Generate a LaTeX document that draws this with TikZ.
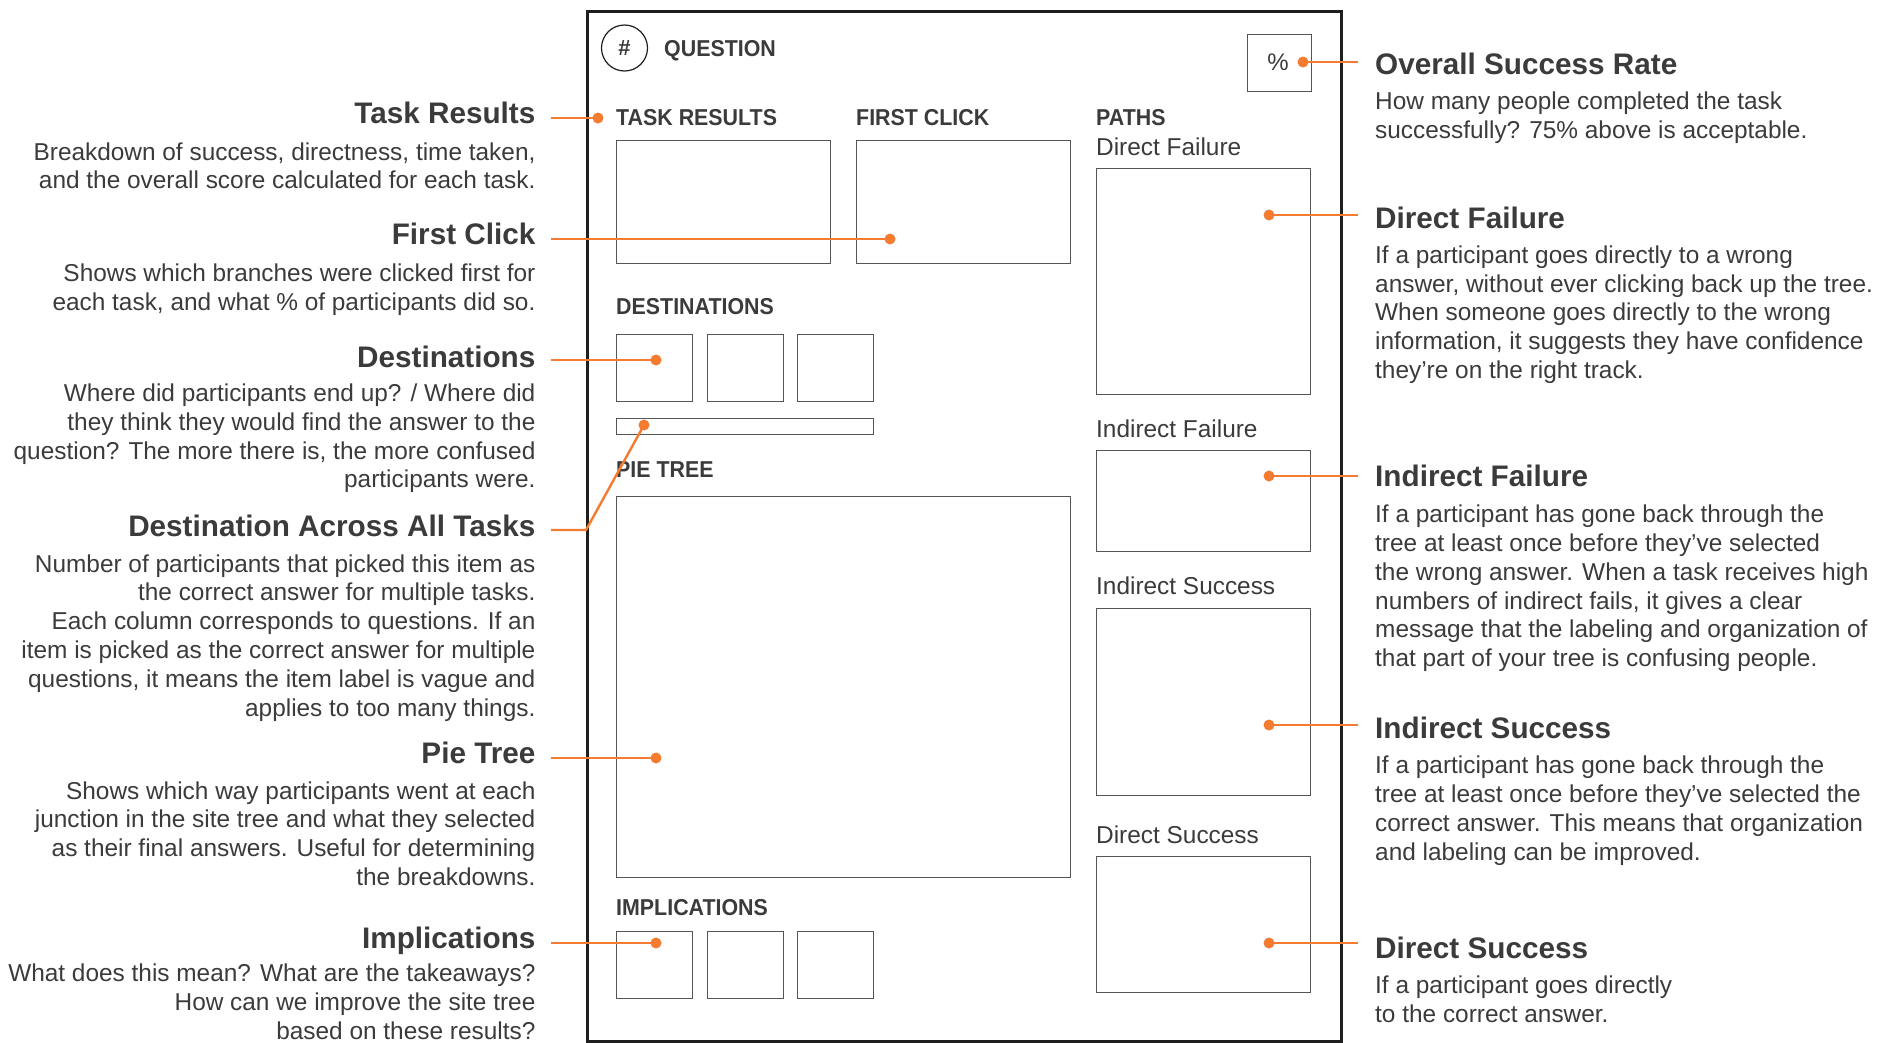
\documentclass[tikz,border=0pt]{standalone}
\usepackage{fontspec}
\setmainfont{Liberation Sans}
\newfontfamily\capsfont[FakeStretch=0.93]{Liberation Sans}
\definecolor{ink}{HTML}{3B3B3B}
\definecolor{accent}{HTML}{F47B30}
\definecolor{boxline}{HTML}{555555}
\definecolor{framecol}{HTML}{1E1E1E}

\begin{document}
\begin{tikzpicture}[x=1pt,y=-1pt,
  panel/.style={draw=boxline, line width=1.3pt, inner sep=0, anchor=north west},
  heading/.style={font=\bfseries\fontsize{29.7}{34}\selectfont, text=ink, inner sep=0},
  headL/.style={heading, anchor=base east},
  headR/.style={heading, anchor=base west},
  % multi-line blocks are placed by the baseline of their last line
  bodyL/.style={font=\fontsize{24.4}{28.8}\selectfont, text=ink, inner sep=0, align=right, anchor=base east},
  bodyR/.style={font=\fontsize{24.4}{28.8}\selectfont, text=ink, inner sep=0, align=left, anchor=base west},
  capslabel/.style={font=\capsfont\bfseries\fontsize{23}{28}\selectfont, text=ink, inner sep=0, anchor=base west},
  sublabel/.style={font=\fontsize{24.4}{28.8}\selectfont, text=ink, inner sep=0, anchor=base west},
  dot/.style={circle, fill=accent, inner sep=0, minimum size=11pt},
  lead/.style={draw=accent, line width=2.4pt}
]
% canvas
\fill[white] (0,0) rectangle (1883,1042);
\useasboundingbox (0,0) rectangle (1883,1042);

% page frame
\node[draw=framecol, line width=2.6pt, inner sep=0, anchor=north west,
      minimum width=754pt, minimum height=1030pt] (frame) at (586,10) {};

% header
\node[draw=framecol, line width=1.2pt, circle, minimum size=46pt, inner sep=0,
      font=\bfseries\fontsize{22}{26}\selectfont, text=ink] (num) at (624.5,48) {\#};
\node[capslabel] (qlabel) at (664,56.5) {QUESTION};
\node[panel, minimum width=64pt, minimum height=57pt] (pctbox) at (1247,34) {};
\node[font=\fontsize{24}{28}\selectfont, text=ink, inner sep=0] (pct) at (1278,62) {\%};

% left column panels
\node[capslabel] (trlabel) at (616,125) {TASK RESULTS};
\node[capslabel] (fclabel) at (856,125) {FIRST CLICK};
\node[panel, minimum width=214pt, minimum height=123pt] (trbox) at (616,140) {};
\node[panel, minimum width=214pt, minimum height=123pt] (fcbox) at (856,140) {};

\node[capslabel] (dstlabel) at (616,314.7) {DESTINATIONS};
\node[panel, minimum width=76pt, minimum height=67pt] (dst1) at (616,334) {};
\node[panel, minimum width=76pt, minimum height=67pt] (dst2) at (707,334) {};
\node[panel, minimum width=76pt, minimum height=67pt] (dst3) at (797,334) {};
\node[panel, minimum width=257pt, minimum height=16pt] (dstbar) at (616,418) {};

\node[capslabel] (pielabel) at (616,477) {PIE TREE};
\node[panel, minimum width=454pt, minimum height=381pt] (piebox) at (616,496) {};

\node[capslabel] (implabel) at (616,915) {IMPLICATIONS};
\node[panel, minimum width=76pt, minimum height=67pt] (imp1) at (616,931) {};
\node[panel, minimum width=76pt, minimum height=67pt] (imp2) at (707,931) {};
\node[panel, minimum width=76pt, minimum height=67pt] (imp3) at (797,931) {};

% paths column
\node[capslabel] (pathlabel) at (1096,125) {PATHS};
\node[sublabel] (dflabel) at (1096,155) {Direct Failure};
\node[panel, minimum width=214pt, minimum height=226pt] (dfbox) at (1096,168) {};
\node[sublabel] (iflabel) at (1096,437) {Indirect Failure};
\node[panel, minimum width=214pt, minimum height=101pt] (ifbox) at (1096,450) {};
\node[sublabel] (islabel) at (1096,594) {Indirect Success};
\node[panel, minimum width=214pt, minimum height=187pt] (isbox) at (1096,608) {};
\node[sublabel] (dslabel) at (1096,843) {Direct Success};
\node[panel, minimum width=214pt, minimum height=136pt] (dsbox) at (1096,856) {};

% left annotations
\node[headL] (hTR) at (535.6,123.5) {Task Results};
\node[bodyL] (bTR) at (535.6,188.8) {Breakdown of success, directness, time taken,\\and the overall score calculated for each task.};
\node[headL] (hFC) at (535.6,244.8) {First Click};
\node[bodyL] (bFC) at (535.6,310.1) {Shows which branches were clicked first for\\each task, and what \% of participants did so.};
\node[headL] (hDS) at (535.6,367.3) {Destinations};
\node[bodyL] (bDS) at (535.6,487.8) {Where did participants end up? / Where did\\they think they would find the answer to the\\question? The more there is, the more confused\\participants were.};
\node[headL] (hDA) at (535.6,536.6) {Destination Across All Tasks};
\node[bodyL] (bDA) at (535.6,716) {Number of participants that picked this item as\\the correct answer for multiple tasks.\\Each column corresponds to questions. If an\\item is picked as the correct answer for multiple\\questions, it means the item label is vague and\\applies to too many things.};
\node[headL] (hPT) at (535.6,763.6) {Pie Tree};
\node[bodyL] (bPT) at (535.6,885.4) {Shows which way participants went at each\\junction in the site tree and what they selected\\as their final answers. Useful for determining\\the breakdowns.};
\node[headL] (hIM) at (535.6,948.6) {Implications};
\node[bodyL] (bIM) at (535.6,1039.5) {What does this mean? What are the takeaways?\\How can we improve the site tree\\based on these results?};

% right annotations
\node[headR] (hOS) at (1375,74.2) {Overall Success Rate};
\node[bodyR] (bOS) at (1375,138.4) {How many people completed the task\\successfully? 75\% above is acceptable.};
\node[headR] (hDF) at (1375,228) {Direct Failure};
\node[bodyR] (bDF) at (1375,378.5) {If a participant goes directly to a wrong\\answer, without ever clicking back up the tree.\\When someone goes directly to the wrong\\information, it suggests they have confidence\\they’re on the right track.};
\node[headR] (hIF) at (1375,486.2) {Indirect Failure};
\node[bodyR] (bIF) at (1375,666.7) {If a participant has gone back through the\\tree at least once before they’ve selected\\the wrong answer. When a task receives high\\numbers of indirect fails, it gives a clear\\message that the labeling and organization of\\that part of your tree is confusing people.};
\node[headR] (hIS) at (1375,738.3) {Indirect Success};
\node[bodyR] (bIS) at (1375,860.1) {If a participant has gone back through the\\tree at least once before they’ve selected the\\correct answer. This means that organization\\and labeling can be improved.};
\node[headR] (hDU) at (1375,958) {Direct Success};
\node[bodyR] (bDU) at (1375,1022.3) {If a participant goes directly\\to the correct answer.};

% leader dots
\node[dot] (pTR) at (598,118) {};
\node[dot] (pFC) at (890,239) {};
\node[dot] (pDS) at (656,360) {};
\node[dot] (pDA) at (644,425) {};
\node[dot] (pPT) at (656,758) {};
\node[dot] (pIM) at (656,943) {};
\node[dot] (pOS) at (1303,62) {};
\node[dot] (pDF) at (1269,215) {};
\node[dot] (pIF) at (1269,476) {};
\node[dot] (pIS) at (1269,725) {};
\node[dot] (pDU) at (1269,943) {};

% leader ends beside the annotations
\coordinate (eTR) at (551,118);
\coordinate (eFC) at (551,239);
\coordinate (eDS) at (551,360);
\coordinate (eDA) at (551,530);
\coordinate (kDA) at (586,530);
\coordinate (ePT) at (551,758);
\coordinate (eIM) at (551,943);
\coordinate (eOS) at (1358,62);
\coordinate (eDF) at (1358,215);
\coordinate (eIF) at (1358,476);
\coordinate (eIS) at (1358,725);
\coordinate (eDU) at (1358,943);

% leaders
\draw[lead] (eTR) -- (pTR.center);
\draw[lead] (eFC) -- (pFC.center);
\draw[lead] (eDS) -- (pDS.center);
\draw[lead] (eDA) -- (kDA) -- (pDA.center);
\draw[lead] (ePT) -- (pPT.center);
\draw[lead] (eIM) -- (pIM.center);
\draw[lead] (eOS) -- (pOS.center);
\draw[lead] (eDF) -- (pDF.center);
\draw[lead] (eIF) -- (pIF.center);
\draw[lead] (eIS) -- (pIS.center);
\draw[lead] (eDU) -- (pDU.center);
\end{tikzpicture}
\end{document}
